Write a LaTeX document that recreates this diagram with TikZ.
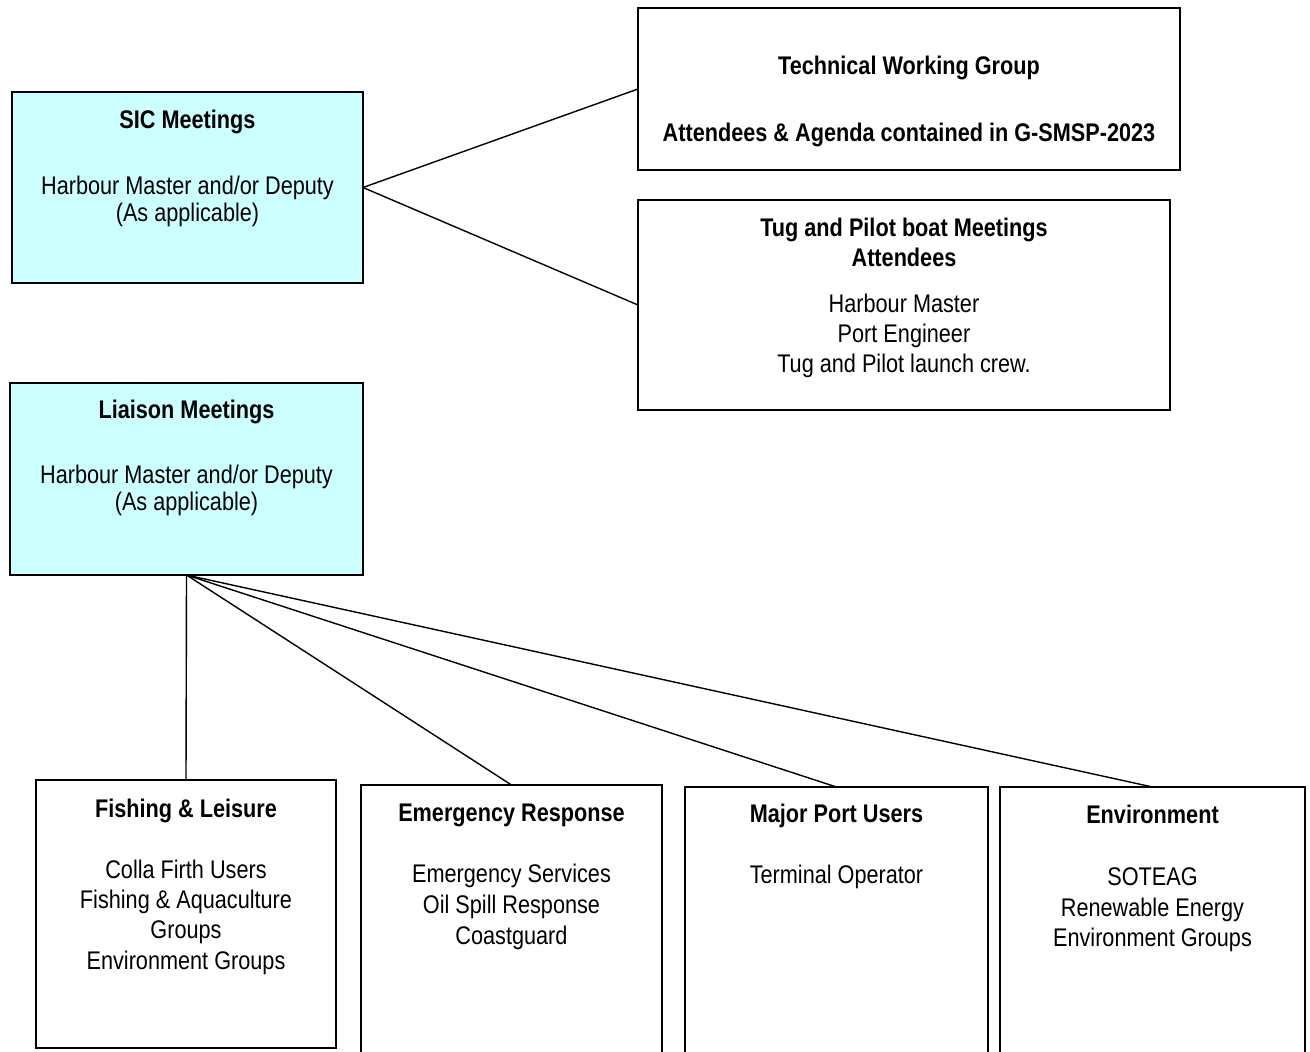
\documentclass[tikz,border=0pt]{standalone}
\usepackage{fontspec}
\setmainfont{Liberation Sans}[FakeStretch=0.85]
\definecolor{paleCyan}{HTML}{CCFFFF}
\tikzset{
  box/.style={draw=black, line width=1.6pt, inner sep=0pt, outer sep=0pt},
  cyanbox/.style={box, fill=paleCyan},
  txt/.style={anchor=base, inner sep=0pt, font=\fontsize{25.5}{27}\selectfont},
  bold/.style={txt, font=\fontsize{25.5}{27}\selectfont\bfseries},
  link/.style={draw=black, line width=1.4pt}
}
\begin{document}
\begin{tikzpicture}[x=1pt, y=-1pt]
\useasboundingbox (0,0) rectangle (1310,1052);
\fill[white] (0,0) rectangle (1310,1052);
\clip (0,0) rectangle (1310,1052);

% top boxes
\node[cyanbox, minimum width=351pt, minimum height=191pt] (sic) at (187.5,187.5) {};
\node[box, minimum width=542pt, minimum height=162pt] (twg) at (909,89) {};
\node[box, minimum width=532pt, minimum height=210pt] (tug) at (904,305) {};
\node[cyanbox, minimum width=353pt, minimum height=192pt] (liaison) at (186.5,479) {};

% bottom boxes
\node[box, minimum width=300pt, minimum height=268pt] (fish) at (186,914) {};
\node[box, minimum width=301pt, minimum height=280pt] (emerg) at (511.5,925) {};
\node[box, minimum width=303pt, minimum height=280pt] (major) at (836.5,927) {};
\node[box, minimum width=305pt, minimum height=280pt] (env) at (1152.5,927) {};

% connectors
\draw[link] (sic.east) -- (twg.west);
\draw[link] (sic.east) -- (tug.west);
\draw[link] (liaison.south) -- (fish.north);
\draw[link] (liaison.south) -- (emerg.north);
\draw[link] (liaison.south) -- (major.north);
\draw[link] (liaison.south) -- (env.north);

% SIC text
\node[bold] (sic1) at (187.5,128) {SIC Meetings};
\node[txt] (sic2) at (187.5,194.5) {Harbour Master and/or Deputy};
\node[txt] (sic3) at (187.5,221) {(As applicable)};

% TWG text
\node[bold] (twg1) at (909,74.5) {Technical Working Group};
\node[bold] (twg2) at (909,141.5) {Attendees \& Agenda contained in G-SMSP-2023};

% Tug text
\node[bold] (tug1) at (904,236) {Tug and Pilot boat Meetings};
\node[bold] (tug2) at (904,266) {Attendees};
\node[txt] (tug3) at (904,312.5) {Harbour Master};
\node[txt] (tug4) at (904,342.5) {Port Engineer};
\node[txt] (tug5) at (904,372.5) {Tug and Pilot launch crew.};

% Liaison text
\node[bold] (lia1) at (186.5,418) {Liaison Meetings};
\node[txt] (lia2) at (186.5,483.5) {Harbour Master and/or Deputy};
\node[txt] (lia3) at (186.5,510) {(As applicable)};

% Fishing text
\node[bold] (fish1) at (186,817) {Fishing \& Leisure};
\node[txt] (fish2) at (186,878) {Colla Firth Users};
\node[txt] (fish3) at (186,908) {Fishing \& Aquaculture};
\node[txt] (fish4) at (186,938) {Groups};
\node[txt] (fish5) at (186,969) {Environment Groups};

% Emergency text
\node[bold] (em1) at (511.5,821) {Emergency Response};
\node[txt] (em2) at (511.5,882) {Emergency Services};
\node[txt] (em3) at (511.5,913) {Oil Spill Response};
\node[txt] (em4) at (511.5,944) {Coastguard};

% Major port users text
\node[bold] (mj1) at (836.5,822) {Major Port Users};
\node[txt] (mj2) at (836.5,883) {Terminal Operator};

% Environment text
\node[bold] (en1) at (1152.5,823) {Environment};
\node[txt] (en2) at (1152.5,885) {SOTEAG};
\node[txt] (en3) at (1152.5,916) {Renewable Energy};
\node[txt] (en4) at (1152.5,946) {Environment Groups};
\end{tikzpicture}
\end{document}
